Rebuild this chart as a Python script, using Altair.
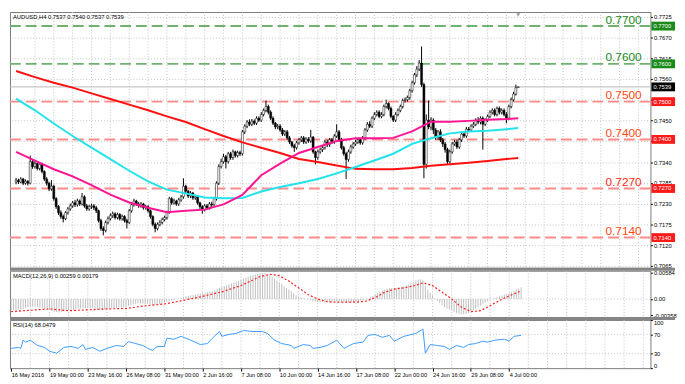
import json
import altair as alt
import pandas as pd

# ---------------- data ----------------
opens = [0.7287,0.7292,0.7287,0.7295,0.7284,0.7289,0.7284,0.7341,
0.7328,0.7336,0.7323,0.7334,0.7315,0.7295,0.7284,0.7269,
0.7276,0.7243,0.7222,0.7206,0.7196,0.7190,0.7206,0.7216,
0.7224,0.7232,0.7227,0.7237,0.7229,0.7248,0.7224,0.7216,
0.7222,0.7224,0.7219,0.7211,0.7185,0.7164,0.7159,0.7180,
0.7190,0.7198,0.7203,0.7193,0.7201,0.7190,0.7196,0.7185,
0.7180,0.7211,0.7227,0.7237,0.7229,0.7224,0.7229,0.7219,
0.7222,0.7211,0.7196,0.7175,0.7164,0.7175,0.7180,0.7188,
0.7193,0.7206,0.7243,0.7232,0.7237,0.7229,0.7240,0.7248,
0.7276,0.7263,0.7250,0.7258,0.7245,0.7248,0.7232,0.7222,
0.7214,0.7224,0.7219,0.7229,0.7227,0.7243,0.7284,0.7328,
0.7341,0.7354,0.7341,0.7362,0.7352,0.7367,0.7357,0.7365,
0.7362,0.7420,0.7435,0.7446,0.7440,0.7448,0.7443,0.7456,
0.7451,0.7466,0.7477,0.7487,0.7472,0.7456,0.7443,0.7433,
0.7435,0.7425,0.7414,0.7420,0.7404,0.7393,0.7383,0.7378,
0.7391,0.7399,0.7404,0.7393,0.7401,0.7396,0.7406,0.7367,
0.7352,0.7367,0.7373,0.7378,0.7393,0.7386,0.7399,0.7393,
0.7409,0.7420,0.7399,0.7378,0.7362,0.7347,0.7367,0.7380,
0.7388,0.7393,0.7399,0.7391,0.7404,0.7425,0.7440,0.7435,
0.7456,0.7466,0.7472,0.7461,0.7466,0.7487,0.7495,0.7482,
0.7461,0.7451,0.7466,0.7477,0.7487,0.7503,0.7505,0.7511,
0.7529,0.7550,0.7571,0.7586,0.7602,0.7545,0.7334,0.7451,
0.7433,0.7451,0.7425,0.7406,0.7420,0.7399,0.7388,0.7373,
0.7341,0.7367,0.7388,0.7393,0.7380,0.7399,0.7414,0.7409,
0.7427,0.7425,0.7435,0.7440,0.7451,0.7446,0.7456,0.7440,
0.7451,0.7461,0.7472,0.7477,0.7466,0.7482,0.7472,0.7477,
0.7466,0.7456,0.7487,0.7505,0.7520,0.7537]

highs = [0.7298,0.7296,0.7300,0.7298,0.7294,0.7292,0.7357,0.7347,
0.7345,0.7340,0.7339,0.7338,0.7318,0.7300,0.7288,0.7292,
0.7280,0.7247,0.7226,0.7212,0.7201,0.7210,0.7221,0.7230,
0.7237,0.7240,0.7243,0.7241,0.7258,0.7252,0.7229,0.7227,
0.7230,0.7229,0.7224,0.7214,0.7190,0.7170,0.7185,0.7196,
0.7204,0.7209,0.7207,0.7206,0.7205,0.7201,0.7199,0.7190,
0.7216,0.7232,0.7243,0.7240,0.7234,0.7234,0.7232,0.7227,
0.7226,0.7214,0.7199,0.7180,0.7180,0.7186,0.7193,0.7198,
0.7211,0.7248,0.7247,0.7243,0.7240,0.7245,0.7253,0.7297,
0.7280,0.7266,0.7263,0.7261,0.7253,0.7251,0.7235,0.7226,
0.7229,0.7229,0.7234,0.7235,0.7248,0.7289,0.7334,0.7349,
0.7362,0.7359,0.7367,0.7367,0.7373,0.7370,0.7370,0.7370,
0.7425,0.7440,0.7451,0.7453,0.7454,0.7453,0.7461,0.7461,
0.7472,0.7482,0.7503,0.7492,0.7477,0.7461,0.7446,0.7441,
0.7440,0.7430,0.7425,0.7425,0.7409,0.7396,0.7388,0.7396,
0.7404,0.7409,0.7409,0.7406,0.7406,0.7425,0.7409,0.7370,
0.7373,0.7378,0.7383,0.7399,0.7399,0.7404,0.7404,0.7414,
0.7440,0.7425,0.7404,0.7383,0.7367,0.7373,0.7386,0.7393,
0.7399,0.7404,0.7404,0.7409,0.7430,0.7446,0.7448,0.7461,
0.7472,0.7477,0.7477,0.7472,0.7492,0.7505,0.7498,0.7487,
0.7464,0.7472,0.7482,0.7492,0.7508,0.7511,0.7516,0.7534,
0.7555,0.7576,0.7594,0.7610,0.7646,0.7550,0.7466,0.7503,
0.7459,0.7456,0.7430,0.7425,0.7427,0.7404,0.7393,0.7378,
0.7373,0.7393,0.7399,0.7399,0.7404,0.7420,0.7420,0.7433,
0.7433,0.7440,0.7446,0.7456,0.7459,0.7461,0.7461,0.7456,
0.7466,0.7477,0.7482,0.7482,0.7487,0.7487,0.7482,0.7482,
0.7472,0.7492,0.7511,0.7526,0.7545,0.7540]

lows = [0.7281,0.7282,0.7284,0.7279,0.7280,0.7278,0.7281,0.7322,
0.7323,0.7318,0.7318,0.7310,0.7290,0.7278,0.7263,0.7264,
0.7238,0.7216,0.7200,0.7190,0.7180,0.7186,0.7201,0.7211,
0.7219,0.7221,0.7222,0.7224,0.7225,0.7219,0.7211,0.7211,
0.7216,0.7213,0.7205,0.7180,0.7158,0.7146,0.7154,0.7175,
0.7185,0.7192,0.7188,0.7188,0.7185,0.7185,0.7180,0.7164,
0.7176,0.7206,0.7222,0.7224,0.7219,0.7219,0.7214,0.7214,
0.7206,0.7190,0.7170,0.7154,0.7159,0.7170,0.7175,0.7183,
0.7188,0.7203,0.7227,0.7227,0.7224,0.7224,0.7235,0.7243,
0.7258,0.7245,0.7245,0.7240,0.7240,0.7227,0.7216,0.7203,
0.7209,0.7214,0.7214,0.7221,0.7222,0.7238,0.7279,0.7323,
0.7336,0.7323,0.7336,0.7346,0.7346,0.7352,0.7352,0.7356,
0.7357,0.7414,0.7430,0.7435,0.7435,0.7438,0.7438,0.7446,
0.7446,0.7461,0.7472,0.7466,0.7451,0.7438,0.7427,0.7427,
0.7420,0.7409,0.7409,0.7399,0.7388,0.7378,0.7367,0.7373,
0.7386,0.7393,0.7388,0.7388,0.7391,0.7391,0.7362,0.7334,
0.7346,0.7362,0.7367,0.7373,0.7380,0.7380,0.7388,0.7388,
0.7404,0.7393,0.7373,0.7357,0.7295,0.7341,0.7362,0.7375,
0.7383,0.7388,0.7386,0.7386,0.7399,0.7420,0.7430,0.7430,
0.7451,0.7461,0.7456,0.7456,0.7461,0.7482,0.7477,0.7456,
0.7446,0.7446,0.7461,0.7472,0.7482,0.7498,0.7500,0.7505,
0.7524,0.7545,0.7565,0.7581,0.7539,0.7297,0.7323,0.7427,
0.7425,0.7414,0.7399,0.7399,0.7393,0.7380,0.7365,0.7334,
0.7336,0.7362,0.7383,0.7375,0.7375,0.7393,0.7404,0.7404,
0.7420,0.7420,0.7430,0.7435,0.7440,0.7440,0.7373,0.7435,
0.7446,0.7456,0.7466,0.7461,0.7461,0.7466,0.7466,0.7461,
0.7443,0.7451,0.7482,0.7500,0.7516,0.7537]

closes = [0.7292,0.7287,0.7295,0.7284,0.7289,0.7284,0.7341,0.7328,
0.7336,0.7323,0.7334,0.7315,0.7295,0.7284,0.7269,0.7276,
0.7243,0.7222,0.7206,0.7196,0.7190,0.7206,0.7216,0.7224,
0.7232,0.7227,0.7237,0.7229,0.7248,0.7224,0.7216,0.7222,
0.7224,0.7219,0.7211,0.7185,0.7164,0.7159,0.7180,0.7190,
0.7198,0.7203,0.7193,0.7201,0.7190,0.7196,0.7185,0.7180,
0.7211,0.7227,0.7237,0.7229,0.7224,0.7229,0.7219,0.7222,
0.7211,0.7196,0.7175,0.7164,0.7175,0.7180,0.7188,0.7193,
0.7206,0.7243,0.7232,0.7237,0.7229,0.7240,0.7248,0.7276,
0.7263,0.7250,0.7258,0.7245,0.7248,0.7232,0.7222,0.7214,
0.7224,0.7219,0.7229,0.7227,0.7243,0.7284,0.7328,0.7341,
0.7354,0.7341,0.7362,0.7352,0.7367,0.7357,0.7365,0.7362,
0.7420,0.7435,0.7446,0.7440,0.7448,0.7443,0.7456,0.7451,
0.7466,0.7477,0.7487,0.7472,0.7456,0.7443,0.7433,0.7435,
0.7425,0.7414,0.7420,0.7404,0.7393,0.7383,0.7378,0.7391,
0.7399,0.7404,0.7393,0.7401,0.7396,0.7406,0.7367,0.7352,
0.7367,0.7373,0.7378,0.7393,0.7386,0.7399,0.7393,0.7409,
0.7420,0.7399,0.7378,0.7362,0.7347,0.7367,0.7380,0.7388,
0.7393,0.7399,0.7391,0.7404,0.7425,0.7440,0.7435,0.7456,
0.7466,0.7472,0.7461,0.7466,0.7487,0.7495,0.7482,0.7461,
0.7451,0.7466,0.7477,0.7487,0.7503,0.7505,0.7511,0.7529,
0.7550,0.7571,0.7586,0.7602,0.7545,0.7334,0.7451,0.7433,
0.7451,0.7425,0.7406,0.7420,0.7399,0.7388,0.7373,0.7341,
0.7367,0.7388,0.7393,0.7380,0.7399,0.7414,0.7409,0.7427,
0.7425,0.7435,0.7440,0.7451,0.7446,0.7456,0.7440,0.7451,
0.7461,0.7472,0.7477,0.7466,0.7482,0.7472,0.7477,0.7466,
0.7456,0.7487,0.7505,0.7520,0.7537,0.7539]

bar_idx = list(range(len(closes)))

# moving averages, read every 8 bars
ma_idx = [0,8,16,24,32,40,48,56,64,72,80,88,96,104,112,120,128,136,144,152,160,168,176,184,192,200,208,213]
ma_red = [0.7581,0.7565,0.7550,0.7537,0.7522,0.7507,0.7492,0.7477,0.7461,0.7446,0.7427,0.7409,0.7392,0.7378,
          0.7364,0.7348,0.7340,0.7331,0.7322,0.7321,0.7321,0.7324,0.7330,0.7334,0.7338,0.7343,0.7348,0.7351]
ma_cyan = [0.7508,0.7477,0.7442,0.7409,0.7378,0.7348,0.7317,0.7289,0.7267,0.7257,0.7246,0.7244,0.7245,0.7262,
           0.7274,0.7284,0.7295,0.7310,0.7327,0.7344,0.7362,0.7388,0.7403,0.7416,0.7421,0.7423,0.7427,0.7430]
ma_magenta = [0.7367,0.7344,0.7321,0.7302,0.7279,0.7254,0.7233,0.7219,0.7207,0.7211,0.7214,0.7228,0.7253,0.7305,
              0.7336,0.7364,0.7380,0.7396,0.7403,0.7403,0.7404,0.7421,0.7447,0.7447,0.7449,0.7452,0.7454,0.7456]

# MACD histogram (one value per bar)
macd_hist = [-0.0025,-0.0025,-0.0025,-0.0024,-0.0024,-0.0022,-0.0019,-0.0018,
-0.0017,-0.0017,-0.0017,-0.0018,-0.0019,-0.0020,-0.0022,-0.0022,
-0.0024,-0.0026,-0.0028,-0.0029,-0.0030,-0.0029,-0.0028,-0.0027,
-0.0026,-0.0025,-0.0024,-0.0023,-0.0021,-0.0021,-0.0021,-0.0021,
-0.0020,-0.0020,-0.0020,-0.0021,-0.0023,-0.0024,-0.0024,-0.0023,
-0.0022,-0.0021,-0.0020,-0.0020,-0.0020,-0.0019,-0.0019,-0.0019,
-0.0017,-0.0015,-0.0013,-0.0012,-0.0011,-0.0010,-0.0010,-0.0010,
-0.0010,-0.0011,-0.0012,-0.0013,-0.0013,-0.0012,-0.0011,-0.0010,
-0.0008,-0.0006,-0.0004,-0.0003,-0.0002,0.0000,0.0001,0.0003,
0.0005,0.0006,0.0007,0.0008,0.0009,0.0010,0.0011,0.0012,
0.0013,0.0014,0.0015,0.0016,0.0017,0.0019,0.0022,0.0025,
0.0027,0.0029,0.0031,0.0033,0.0035,0.0037,0.0039,0.0041,
0.0043,0.0046,0.0048,0.0050,0.0052,0.0054,0.0055,0.0056,
0.0057,0.0058,0.0057,0.0055,0.0052,0.0049,0.0045,0.0041,
0.0037,0.0033,0.0029,0.0025,0.0021,0.0017,0.0013,0.0009,
0.0006,0.0004,0.0002,0.0000,-0.0002,-0.0003,-0.0005,-0.0006,
-0.0007,-0.0007,-0.0007,-0.0007,-0.0007,-0.0007,-0.0006,-0.0006,
-0.0005,-0.0005,-0.0006,-0.0007,-0.0008,-0.0008,-0.0007,-0.0007,
-0.0006,-0.0005,-0.0004,-0.0003,-0.0001,0.0001,0.0004,0.0007,
0.0010,0.0013,0.0016,0.0019,0.0021,0.0023,0.0024,0.0024,
0.0024,0.0025,0.0026,0.0027,0.0028,0.0030,0.0032,0.0035,
0.0038,0.0041,0.0043,0.0044,0.0042,0.0030,0.0020,0.0014,
0.0008,0.0002,-0.0004,-0.0009,-0.0014,-0.0018,-0.0021,-0.0024,
-0.0026,-0.0029,-0.0031,-0.0033,-0.0034,-0.0034,-0.0033,-0.0031,
-0.0028,-0.0025,-0.0022,-0.0019,-0.0015,-0.0012,-0.0008,-0.0005,
-0.0002,0.0000,0.0002,0.0004,0.0006,0.0008,0.0010,0.0012,
0.0014,0.0016,0.0018,0.0021,0.0023,0.0026]

sig_idx = [0,8,16,24,32,40,48,56,64,72,80,88,96,100,104,108,112,116,120,124,128,132,136,140,144,148,
           152,156,160,164,168,172,176,180,184,188,192,196,200,204,208,213]
sig_val = [-0.0028,-0.0025,-0.0022,-0.0026,-0.0024,-0.0022,-0.0021,-0.0015,-0.0011,-0.0003,0.0006,0.0016,
           0.0030,0.0040,0.0050,0.0055,0.0052,0.0040,0.0025,0.0010,0.0000,-0.0006,-0.0007,-0.0007,-0.0007,
           -0.0005,0.0003,0.0015,0.0022,0.0025,0.0029,0.0036,0.0030,0.0015,0.0000,-0.0018,-0.0028,-0.0026,
           -0.0015,-0.0003,0.0007,0.0018]

rsi_idx = [0,3,4,5,6,8,11,14,16,19,22,25,28,30,31,34,37,40,44,47,49,52,55,57,59,61,64,65,68,71,
           75,79,82,84,87,88,91,94,97,101,105,107,110,113,117,118,122,125,126,129,132,136,139,143,147,149,
           152,155,158,160,164,169,171,172,173,175,178,181,183,186,189,191,194,197,199,202,206,208,210,213]
rsi_val = [41,43,41,58,54,58,47,43,35,31,43,45,41,49,39,43,35,41,47,45,55,51,47,41,37,45,45,62,60,66,
           58,49,51,62,76,66,70,72,78,76,76,72,58,51,47,41,49,47,41,43,47,58,41,51,54,68,70,64,68,56,
           66,72,78,81,31,49,47,45,39,47,43,49,51,56,54,58,60,56,66,68]
rsi_levels = [70, 30]

time_idx = [0,16,32,48,64,80,96,112,128,144,160,176,192,208]
time_text = ["16 May 2016","19 May 00:00","23 May 16:00","26 May 08:00","31 May 00:00","2 Jun 16:00",
             "7 Jun 08:00","10 Jun 00:00","14 Jun 16:00","17 Jun 08:00","22 Jun 00:00","24 Jun 16:00",
             "29 Jun 08:00","4 Jul 00:00"]
vgrid_idx = list(range(8, 265, 8))

price_ticks = [0.7725,0.7670,0.7615,0.7560,0.7505,0.7450,0.7395,0.7340,0.7285,0.7230,0.7175,0.7120,0.7065]
price_ticks_hidden = [0.7505, 0.7395]   # covered by the level boxes in the reference

level_price = [0.7700, 0.7600, 0.7500, 0.7400, 0.7270, 0.7140]
level_text = ["0.7700", "0.7600", "0.7500", "0.7400", "0.7270", "0.7140"]
level_line_color = ["#6db36d", "#6db36d", "#ff8a8a", "#ff8a8a", "#ff8a8a", "#ff8a8a"]
level_text_color = ["#23891f", "#23891f", "#ff4a14", "#ff4a14", "#ff2a14", "#ff4a14"]

last_price = 0.7539
box_price = [0.7700, 0.7600, 0.7539, 0.7500, 0.7400, 0.7270, 0.7140]
box_text = ["0.7700", "0.7600", "0.7539", "0.7500", "0.7400", "0.7270", "0.7140"]
box_color = ["#1a8a1a", "#1a8a1a", "#000000", "#ff1a1a", "#ff1a1a", "#ff1a1a", "#ff1a1a"]

macd_axis_vals = [0.00584, 0.0, -0.00358]
macd_axis_text = ["0.00584", "0.00", "-0.00358"]
rsi_axis_vals = [100, 70, 30, 0]

title_main = "AUDUSD,H4  0.7537 0.7540 0.7537 0.7539"
title_macd = "MACD(12,26,9) 0.00259 0.00179"
title_rsi = "RSI(14) 68.0479"

# ---------------- chart ----------------
W = 651
H_MAIN, H_MACD, H_RSI = 260, 47, 49
FONT = "Liberation Sans"
SMALL = 5.9
GRID = "#c2c2c2"
BOX = "M-1,-0.375L1,-0.375L1,0.375L-1,0.375Z"

xscale = alt.Scale(domain=[-0.5, 267], nice=False, zero=False)
y_main = alt.Scale(domain=[0.70600, 0.77373], nice=False, zero=False)
y_macd = alt.Scale(domain=[-0.0040, 0.0063], nice=False, zero=False)
y_rsi = alt.Scale(domain=[0, 100], nice=False, zero=False)

common_axis = dict(domain=False, ticks=True, tickSize=2, tickColor="black", labelFontSize=SMALL,
                   labelFont=FONT, labelPadding=1, labelOverlap=False, title=None, labelColor="black")
price_expr = (f"indexof({json.dumps(price_ticks_hidden)}, datum.value) >= 0 ? '' : "
              f"format(datum.value, '.4f')")
main_axis = alt.Axis(orient="right", values=price_ticks, labelExpr=price_expr, grid=True,
                     gridColor=GRID, gridDash=[1, 2], **common_axis)
macd_expr = f"{json.dumps(macd_axis_text)}[indexof({json.dumps(macd_axis_vals)}, datum.value)]"
macd_axis = alt.Axis(orient="right", values=macd_axis_vals, labelExpr=macd_expr, grid=False,
                     **common_axis)
rsi_axis = alt.Axis(orient="right", values=rsi_axis_vals, format="d", grid=False, labelFlush=True,
                    **common_axis)
time_expr = f"{json.dumps(time_text)}[indexof({json.dumps(time_idx)}, datum.value)]"
x_axis = alt.Axis(orient="bottom", values=time_idx, labelExpr=time_expr, grid=False, domain=False,
                  ticks=True, tickSize=3, tickColor="black", labelAlign="left", labelFontSize=5.7,
                  labelFont=FONT, labelPadding=1, labelOverlap=False, title=None, labelColor="black")


def X(field="i", axis=None):
    return alt.X(f"{field}:Q", scale=xscale, axis=axis)


def YM(f):
    return alt.Y(f"{f}:Q", scale=y_main, axis=main_axis)


def YD(f):
    return alt.Y(f"{f}:Q", scale=y_macd, axis=macd_axis)


def YR(f):
    return alt.Y(f"{f}:Q", scale=y_rsi, axis=rsi_axis)


one = pd.DataFrame({"k": [0]})


def vgrid(axis=None):
    return alt.Chart(pd.DataFrame({"i": vgrid_idx})).mark_rule(
        color=GRID, strokeDash=[1, 2], strokeWidth=1).encode(x=X(axis=axis))


def label(text):
    return alt.Chart(pd.DataFrame({"t": [text]})).mark_text(
        align="left", baseline="middle", fontSize=SMALL, font=FONT, color="black"
    ).encode(x=alt.value(3), y=alt.value(5), text="t:N")


def separator():
    return alt.Chart(one).mark_rule(color="#858585", strokeWidth=3).encode(
        x=alt.value(0), x2=alt.value(676), y=alt.value(-1.5))


# ----- main panel
candles = pd.DataFrame({"i": bar_idx, "open": opens, "high": highs, "low": lows, "close": closes})
ma_df = pd.DataFrame({"i": ma_idx, "red": ma_red, "cyan": ma_cyan, "mag": ma_magenta})
lv = pd.DataFrame({"price": level_price, "label": level_text, "lc": level_line_color, "tc": level_text_color})
bx = pd.DataFrame({"price": box_price, "label": box_text, "bc": box_color})

level_lines = alt.Chart(lv).mark_rule(strokeDash=[11, 5], strokeWidth=2).encode(
    y=YM("price"), color=alt.Color("lc:N", scale=None))
price_line = alt.Chart(pd.DataFrame({"price": [last_price]})).mark_rule(
    color="#b8b8b8", strokeWidth=1).encode(y=YM("price"))
wick = alt.Chart(candles).mark_rule(color="black", strokeWidth=1).encode(
    x=X(), y=YM("low"), y2="high:Q")
body = alt.Chart(candles).mark_bar(width=2, stroke="black", strokeWidth=0.5).encode(
    x=X(), y=YM("open"), y2="close:Q",
    fill=alt.condition("datum.close >= datum.open", alt.value("white"), alt.value("black")))
ma_r = alt.Chart(ma_df).mark_line(color="#ff1010", strokeWidth=2).encode(x=X(), y=YM("red"))
ma_c = alt.Chart(ma_df).mark_line(color="#22e3ec", strokeWidth=2).encode(x=X(), y=YM("cyan"))
ma_m = alt.Chart(ma_df).mark_line(color="#ff1493", strokeWidth=2).encode(x=X(), y=YM("mag"))
level_texts = alt.Chart(lv).mark_text(align="right", baseline="alphabetic", dy=-2.5, fontSize=12,
                                      font=FONT).encode(
    x=alt.value(642), y=YM("price"), text="label:N", color=alt.Color("tc:N", scale=None))
boxes = alt.Chart(bx).mark_point(shape=BOX, size=576, filled=True, opacity=1, strokeWidth=0).encode(
    x=alt.value(664), y=YM("price"), color=alt.Color("bc:N", scale=None))
box_labels = alt.Chart(bx).mark_text(align="left", baseline="middle", fontSize=SMALL, font=FONT,
                                     color="white").encode(
    x=alt.value(654), y=YM("price"), text="label:N")
marker = alt.Chart(pd.DataFrame({"i": [bar_idx[-1]]})).mark_point(
    shape="triangle-down", filled=True, size=16, color="#9a9a9a", opacity=1).encode(
    x=X(), y=alt.value(3))

main = alt.layer(vgrid(), level_lines, price_line, wick, body, ma_r, ma_c, ma_m,
                 level_texts, boxes, box_labels, label(title_main), marker
                 ).properties(width=W, height=H_MAIN)

# ----- MACD panel
macd_df = pd.DataFrame({"i": bar_idx, "m": macd_hist})
sig_df = pd.DataFrame({"i": sig_idx, "s": sig_val})
hist = alt.Chart(macd_df).mark_rule(color="#c0c0c0", strokeWidth=1).encode(
    x=X(), y=YD("m"), y2=alt.datum(0))
zero_line = alt.Chart(one).mark_rule(color=GRID, strokeDash=[1, 2]).encode(
    y=alt.Y(datum=0, scale=y_macd, axis=macd_axis))
signal = alt.Chart(sig_df).mark_line(color="#ff2020", strokeDash=[2, 2], strokeWidth=1.2).encode(
    x=X(), y=YD("s"))
macd = alt.layer(vgrid(), zero_line, hist, signal, label(title_macd), separator()
                 ).properties(width=W, height=H_MACD)

# ----- RSI panel
rsi_df = pd.DataFrame({"i": rsi_idx, "r": rsi_val})
rsi_lv = alt.Chart(pd.DataFrame({"r": rsi_levels})).mark_rule(color=GRID, strokeDash=[1, 2]).encode(
    y=YR("r"))
rsi_line = alt.Chart(rsi_df).mark_line(color="#3d9bff", strokeWidth=1).encode(
    x=X(axis=x_axis), y=YR("r"))
rsi = alt.layer(vgrid(axis=x_axis), rsi_lv, rsi_line, label(title_rsi), separator()
                ).properties(width=W, height=H_RSI)

chart = alt.vconcat(main, macd, rsi, spacing=3, bounds="flush").properties(
    padding=0, background="white"
).configure_view(stroke="#7a7a7a", strokeWidth=1).configure_axis(labelFont=FONT)

chart.save("out.html", embed_options={"renderer": "svg", "actions": False})
